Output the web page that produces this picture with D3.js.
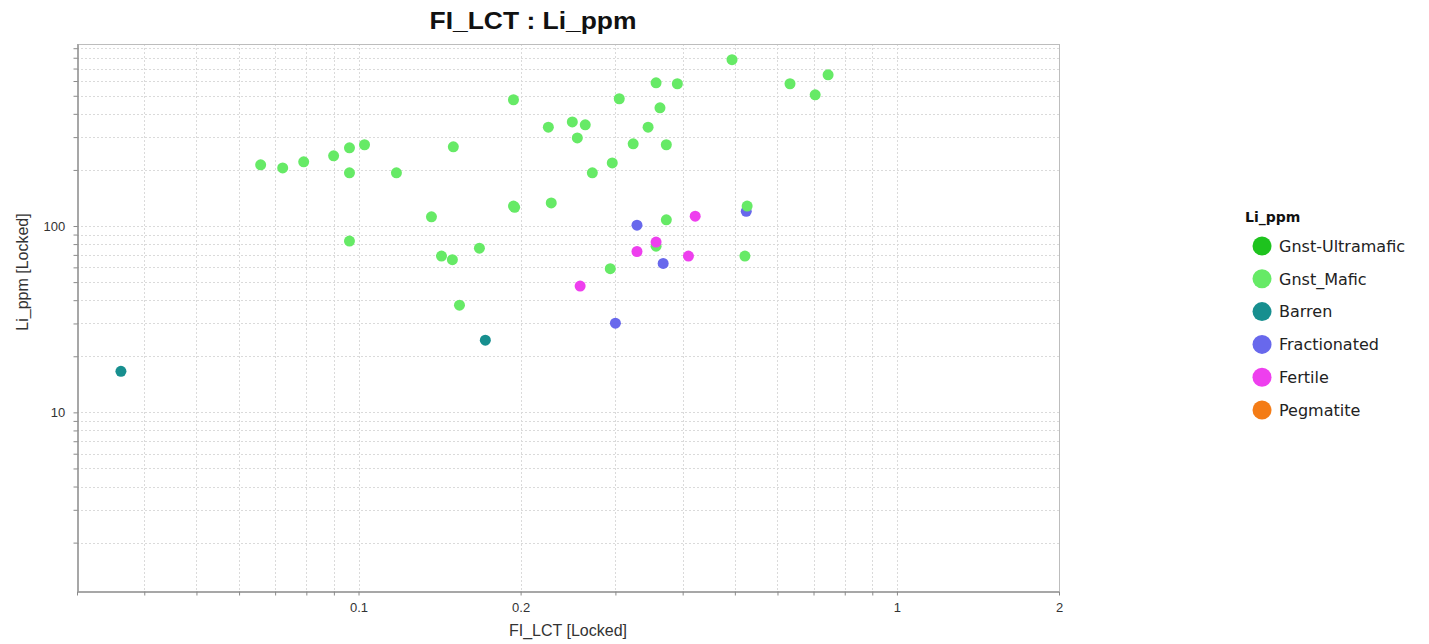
<!DOCTYPE html>
<html><head><meta charset="utf-8">
<script src="https://cdn.jsdelivr.net/npm/d3@7"></script>
<style>
html,body{margin:0;padding:0;background:#fff;}
svg{display:block;}
</style></head>
<body>
<script>
// ---- data ----
const title = "FI_LCT : Li_ppm";
const xLabel = "FI_LCT [Locked]";
const yLabel = "Li_ppm [Locked]";
const legendTitle = "Li_ppm";
const categories = ["Gnst-Ultramafic","Gnst_Mafic","Barren","Fractionated","Fertile","Pegmatite"];
const catColors = ["#1ec31e","#66ea66","#178f8f","#6868ec","#ee3fee","#f47c16"];
const xDomain = [0.03, 2];
const yDomain = [1.1, 948];
const xTickLabels = [0.1, 0.2, 1, 2];
const yTickLabels = [10, 100];
const xMinorTicks = [0.03,0.04,0.05,0.06,0.07,0.08,0.09,0.1,0.2,0.3,0.4,0.5,0.6,0.7,0.8,0.9,1,2];
const yMinorTicks = [2,3,4,5,6,7,8,9,10,20,30,40,50,60,70,80,90,100,200,300,400,500,600,700,800,900];

const mafic_x = [0.0658,0.0723,0.0791,0.0899,0.0962,0.1026,0.0962,0.1176,0.150,0.194,0.1366,0.0962,0.1426,0.1494,0.1677,0.154,0.194,0.195,0.228,0.2252,0.2495,0.2637,0.2549,0.2718,0.296,0.305,0.3237,0.345,0.357,0.363,0.373,0.391,0.373,0.2935,0.494,0.633,0.705,0.745,0.527,0.522,0.357];
const mafic_y = [213,205,221,238,263,273,193,193,266,476,112,83,69,66,76,37.6,128,126,133,339,362,349,297,193,218,482,276,339,587,431,273,580,108,59,781,580,506,648,128,69,78];
const barren_x = [0.0362,0.172];
const barren_y = [16.6,24.4];
const fract_x = [0.329,0.368,0.300,0.525];
const fract_y = [101,63,30.1,120];
const fertile_x = [0.422,0.329,0.357,0.410,0.258];
const fertile_y = [113,73,82,69,47.6];

// ---- chart ----
const W = 1429, H = 644;
const L = 77, R = 1059, T = 44, B = 591;
const svg = d3.select("body").append("svg").attr("width", W).attr("height", H);
const x = d3.scaleLog().domain(xDomain).range([L, R]);
const y = d3.scaleLog().domain(yDomain).range([B, T]);
const font = "'Liberation Sans', Arial, sans-serif";
const lfont = "'DejaVu Sans', Tahoma, sans-serif";

// gridlines
const grid = svg.append("g").attr("stroke", "#dadada").attr("stroke-width", 1).attr("stroke-dasharray", "2,2");
grid.selectAll("line.vx").data(xMinorTicks.filter(v => v > xDomain[0])).enter().append("line")
  .attr("x1", d => Math.round(x(d)) + 0.5).attr("x2", d => Math.round(x(d)) + 0.5)
  .attr("y1", T).attr("y2", B);
grid.selectAll("line.hy").data(yMinorTicks).enter().append("line")
  .attr("y1", d => Math.round(y(d)) + 0.5).attr("y2", d => Math.round(y(d)) + 0.5)
  .attr("x1", L).attr("x2", R);

// frame (top/right light)
svg.append("line").attr("x1", L).attr("x2", R).attr("y1", T + 0.5).attr("y2", T + 0.5).attr("stroke", "#bdbdbd");
svg.append("line").attr("x1", R + 0.5).attr("x2", R + 0.5).attr("y1", T).attr("y2", B).attr("stroke", "#bdbdbd");

// axes
const xAxis = d3.axisBottom(x).tickValues(xMinorTicks).tickSize(4).tickSizeOuter(0)
  .tickFormat(d => xTickLabels.includes(d) ? String(d) : "");
const gx = svg.append("g").attr("transform", `translate(0,${B + 0.5})`).call(xAxis);
const yAxis = d3.axisLeft(y).tickValues(yMinorTicks).tickSize(4).tickSizeOuter(0)
  .tickFormat(d => yTickLabels.includes(d) ? String(d) : "");
const gy = svg.append("g").attr("transform", `translate(${L + 0.5},0)`).call(yAxis);
[gx, gy].forEach(g => {
  g.select(".domain").attr("stroke", "#8a8a8a").attr("stroke-width", 1.5);
  g.selectAll(".tick line").attr("stroke", "#8a8a8a");
  g.selectAll("text").attr("font-family", font).attr("font-size", 13).attr("fill", "#333");
});
gx.selectAll("text").attr("dy", "1.05em");
gy.selectAll("text").attr("dx", "-0.4em");

// points
const series = [
  {cat: 3, xs: fract_x, ys: fract_y},
  {cat: 1, xs: mafic_x, ys: mafic_y},
  {cat: 4, xs: fertile_x, ys: fertile_y},
  {cat: 2, xs: barren_x, ys: barren_y}
];
series.forEach(s => {
  svg.append("g").selectAll("circle").data(s.xs.map((v, i) => [v, s.ys[i]])).enter().append("circle")
    .attr("cx", d => x(d[0])).attr("cy", d => y(d[1])).attr("r", 5.5)
    .attr("fill", catColors[s.cat]);
});

// title
svg.append("text").attr("x", 533).attr("y", 29).attr("text-anchor", "middle")
  .attr("font-family", font).attr("font-weight", "bold")
  .attr("font-size", 23).attr("textLength", 207).attr("lengthAdjust", "spacingAndGlyphs")
  .attr("fill", "#111").text(title);

// axis labels
svg.append("text").attr("x", 568).attr("y", 636).attr("text-anchor", "middle")
  .attr("font-family", font).attr("font-size", 16).attr("fill", "#333").text(xLabel);
svg.append("text").attr("transform", "translate(28,272) rotate(-90)").attr("text-anchor", "middle")
  .attr("font-family", font).attr("font-size", 16).attr("fill", "#333").text(yLabel);

// legend
const lg = svg.append("g");
lg.append("text").attr("x", 1245).attr("y", 222).attr("font-family", lfont).attr("font-weight", "bold")
  .attr("font-size", 14).attr("fill", "#111").text(legendTitle);
const items = lg.selectAll("g.item").data(categories).enter().append("g")
  .attr("transform", (d, i) => `translate(0,${246 + i * 32.8})`);
items.append("circle").attr("cx", 1262).attr("cy", 0).attr("r", 9.5).attr("fill", (d, i) => catColors[i]);
items.append("text").attr("x", 1279).attr("y", 0).attr("dy", "0.36em")
  .attr("font-family", lfont).attr("font-size", 16).attr("fill", "#222").text(d => d);
</script>
</body></html>
